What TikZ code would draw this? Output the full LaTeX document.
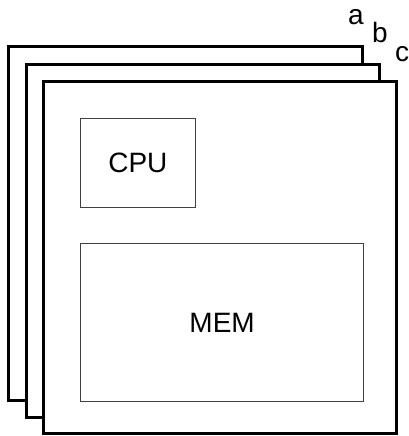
\documentclass[tikz,border=0pt]{standalone}
\usepackage{fontspec}
\setmainfont{Liberation Sans}
\begin{document}
\begin{tikzpicture}[x=1pt,y=-1pt,
  board/.style={draw=black,line width=3pt,fill=white,line join=miter},
  unit/.style={draw=black!75,line width=1.3pt,fill=white},
  lbl/.style={font=\fontsize{28}{32}\selectfont,inner sep=0pt,anchor=base},
  tag/.style={font=\fontsize{28}{32}\selectfont,inner sep=0pt,anchor=base}]
\useasboundingbox (0,0) rectangle (409,436);
% three stacked boards, back to front
\draw[board] (8.3,46.7) rectangle (362,400);
\draw[board] (26,64.2) rectangle (379.4,417);
\draw[board] (43.7,81.7) rectangle (396.8,433.5);
% components on the front board
\node[unit,minimum width=115.5pt,minimum height=88.5pt,anchor=north west] (cpu) at (79.5,118) {};
\node[lbl] at ([yshift=-10pt]cpu.center) {CPU};
\node[unit,minimum width=283pt,minimum height=158pt,anchor=north west] (mem) at (80,242.5) {};
\node[lbl] at ([yshift=-10pt]mem.center) {MEM};
% board labels
\node[tag] (la) at (356,25) {a};
\node[tag] (lb) at (380,43) {b};
\node[tag] (lc) at (402,62) {c};
\end{tikzpicture}
\end{document}
